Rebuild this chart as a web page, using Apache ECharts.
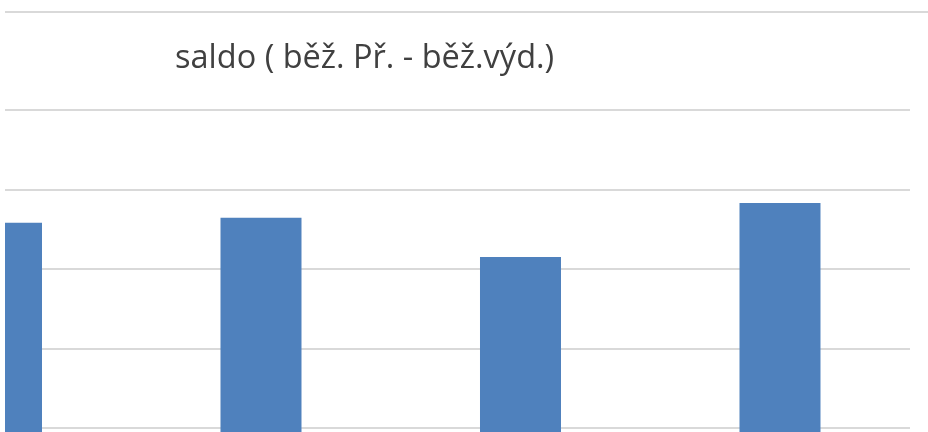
<!DOCTYPE html>
<html>
<head>
<meta charset="utf-8">
<script src="https://cdn.jsdelivr.net/npm/echarts@6/dist/echarts.min.js"></script>
<style>
html,body{margin:0;padding:0;background:#fff;}
#chart{width:928px;height:432px;}
</style>
</head>
<body>
<div id="chart"></div>
<script>
// Data (y in arbitrary units, thousands; axis labels are not shown)
var titleText = 'saldo ( běž. Př. - běž.výd.)';
var categoryPositions = [0, 1, 2, 3];
var saldoValues = [4582, 4645, 4151, 4830];
var yTicks = [0, 1000, 2000, 3000, 4000, 5000, 6000];

var chart = echarts.init(document.getElementById('chart'), null, {renderer: 'canvas'});
var seriesData = categoryPositions.map(function (p, i) { return [p, saldoValues[i]]; });

chart.setOption({
  animation: false,
  backgroundColor: '#ffffff',
  title: {
    text: titleText,
    left: 175,
    top: 42,
    padding: 0,
    textStyle: {
      fontFamily: 'Open Sans',
      fontSize: 32.5,
      fontWeight: 'normal',
      color: '#404040'
    }
  },
  graphic: [{
    type: 'line',
    shape: {x1: 5, y1: 12, x2: 928, y2: 12},
    style: {stroke: '#d9d9d9', lineWidth: 2}
  }, {
    // plot-area edge: the reference crops the first bar at the plot's left border
    type: 'rect',
    z: 100,
    shape: {x: 0, y: 100, width: 5, height: 332},
    style: {fill: '#ffffff'}
  }],
  grid: {left: 5, width: 905, top: 110, height: 477, containLabel: false, outerBoundsMode: 'none'},
  xAxis: {
    type: 'value',
    min: 0.0135,
    max: 3.501,
    axisLine: {show: false},
    axisTick: {show: false},
    axisLabel: {show: false},
    splitLine: {show: false}
  },
  yAxis: {
    type: 'value',
    min: yTicks[0],
    max: yTicks[yTicks.length - 1],
    interval: 1000,
    axisLine: {show: false},
    axisTick: {show: false},
    axisLabel: {show: false},
    splitLine: {show: true, lineStyle: {color: '#d9d9d9', width: 2}}
  },
  series: [{
    type: 'bar',
    data: seriesData,
    barWidth: 81,
    clip: true,
    itemStyle: {color: '#4f81bd'}
  }]
});
</script>
</body>
</html>
